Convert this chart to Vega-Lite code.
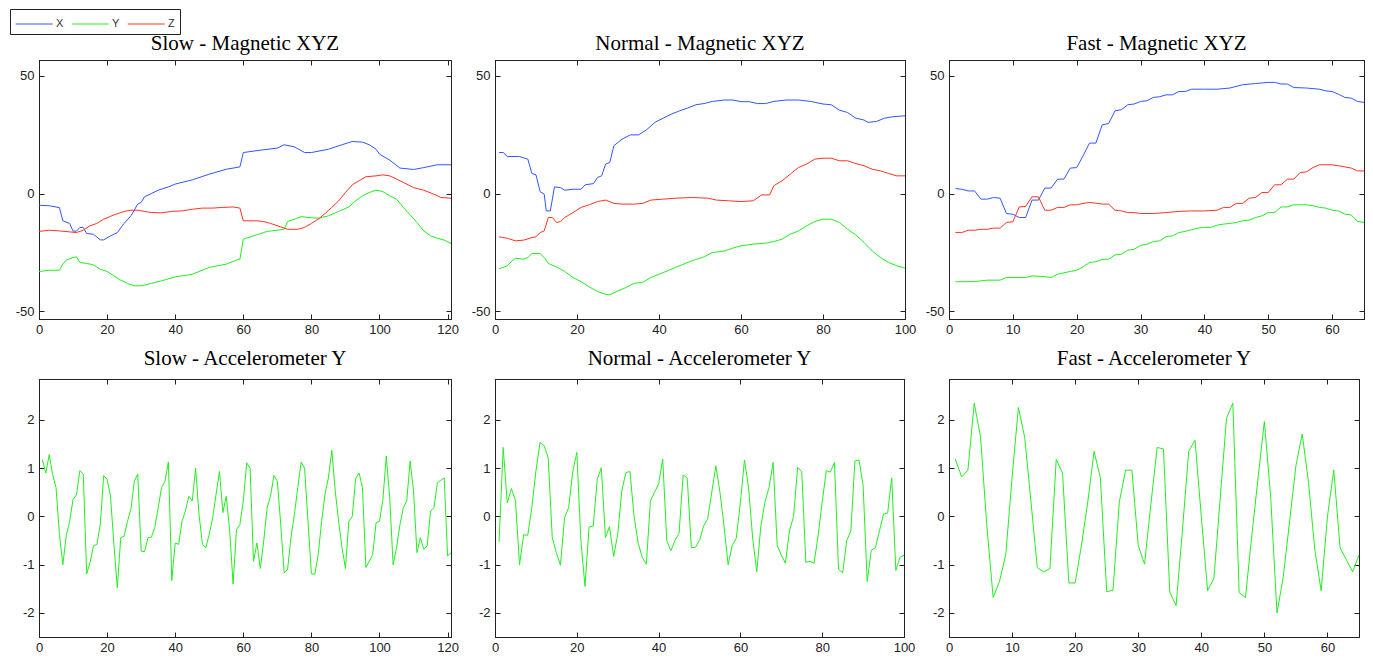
{
"$schema": "https://vega.github.io/schema/vega-lite/v6.json",
"padding": {"left": 9, "top": 8, "right": 0, "bottom": 0},
"background": "white",
"bounds": "flush",
"columns": 3,
"spacing": {"row": 60, "column": 44},
"datasets": {
"sm": [
{"s":"X","t":0,"v":-5},{"s":"X","t":3,"v":-5.2},{"s":"X","t":6,"v":-6},{"s":"X","t":7,"v":-11.6},{"s":"X","t":9,"v":-12.7},{"s":"X","t":10,"v":-16},{"s":"X","t":11,"v":-16},{"s":"X","t":12,"v":-14.4},{"s":"X","t":13,"v":-14.4},{"s":"X","t":14,"v":-17},{"s":"X","t":16,"v":-17.3},{"s":"X","t":18,"v":-19.7},{"s":"X","t":19,"v":-19.7},{"s":"X","t":21,"v":-18},{"s":"X","t":23,"v":-16.6},{"s":"X","t":25,"v":-12.7},{"s":"X","t":27,"v":-9.5},{"s":"X","t":29,"v":-4.5},{"s":"X","t":30,"v":-3.8},{"s":"X","t":31,"v":-1.4},{"s":"X","t":33,"v":0},{"s":"X","t":35,"v":1.4},{"s":"X","t":38,"v":2.8},{"s":"X","t":40,"v":4},{"s":"X","t":45,"v":5.8},{"s":"X","t":50,"v":8.2},{"s":"X","t":55,"v":10.3},{"s":"X","t":59,"v":11.3},{"s":"X","t":60,"v":17.4},{"s":"X","t":65,"v":18.4},{"s":"X","t":70,"v":19.3},{"s":"X","t":72,"v":20.7},{"s":"X","t":75,"v":19.8},{"s":"X","t":78,"v":17.4},{"s":"X","t":80,"v":17.4},{"s":"X","t":85,"v":18.8},{"s":"X","t":89,"v":20.7},{"s":"X","t":92,"v":22.1},{"s":"X","t":95,"v":21.8},{"s":"X","t":97,"v":20.7},{"s":"X","t":99,"v":18.8},{"s":"X","t":100,"v":16.7},{"s":"X","t":103,"v":14.2},{"s":"X","t":106,"v":10.8},{"s":"X","t":110,"v":10.2},{"s":"X","t":113,"v":11},{"s":"X","t":117,"v":12.2},{"s":"X","t":121,"v":12.2},
{"s":"Y","t":0,"v":-33.1},{"s":"Y","t":3,"v":-32.6},{"s":"Y","t":6,"v":-32.6},{"s":"Y","t":7,"v":-30},{"s":"Y","t":8,"v":-28.3},{"s":"Y","t":10,"v":-27.2},{"s":"Y","t":11,"v":-26.9},{"s":"Y","t":12,"v":-29.3},{"s":"Y","t":14,"v":-29.7},{"s":"Y","t":16,"v":-30.3},{"s":"Y","t":18,"v":-32.2},{"s":"Y","t":20,"v":-33.1},{"s":"Y","t":22,"v":-35},{"s":"Y","t":24,"v":-36.8},{"s":"Y","t":26,"v":-38.2},{"s":"Y","t":28,"v":-39.2},{"s":"Y","t":30,"v":-39.2},{"s":"Y","t":33,"v":-38.2},{"s":"Y","t":36,"v":-37.1},{"s":"Y","t":40,"v":-35.4},{"s":"Y","t":45,"v":-34.3},{"s":"Y","t":50,"v":-31.4},{"s":"Y","t":55,"v":-30},{"s":"Y","t":58,"v":-28.3},{"s":"Y","t":59,"v":-27.9},{"s":"Y","t":60,"v":-19.4},{"s":"Y","t":63,"v":-18},{"s":"Y","t":67,"v":-16.1},{"s":"Y","t":70,"v":-15.6},{"s":"Y","t":72,"v":-15.2},{"s":"Y","t":73,"v":-11.9},{"s":"Y","t":75,"v":-10.9},{"s":"Y","t":77,"v":-9.8},{"s":"Y","t":79,"v":-10.2},{"s":"Y","t":82,"v":-10.5},{"s":"Y","t":85,"v":-9.5},{"s":"Y","t":88,"v":-7.6},{"s":"Y","t":91,"v":-5.7},{"s":"Y","t":93,"v":-3.1},{"s":"Y","t":95,"v":-1},{"s":"Y","t":97,"v":0.4},{"s":"Y","t":99,"v":1.4},{"s":"Y","t":101,"v":0.8},{"s":"Y","t":103,"v":-1},{"s":"Y","t":105,"v":-2.4},{"s":"Y","t":107,"v":-5.9},{"s":"Y","t":109,"v":-9.1},{"s":"Y","t":111,"v":-12.3},{"s":"Y","t":113,"v":-15.9},{"s":"Y","t":115,"v":-18},{"s":"Y","t":117,"v":-19},{"s":"Y","t":119,"v":-19.8},{"s":"Y","t":121,"v":-21.2},
{"s":"Z","t":0,"v":-16.1},{"s":"Z","t":3,"v":-15.6},{"s":"Z","t":6,"v":-15.9},{"s":"Z","t":9,"v":-16.3},{"s":"Z","t":11,"v":-16.6},{"s":"Z","t":13,"v":-15.6},{"s":"Z","t":15,"v":-13.7},{"s":"Z","t":17,"v":-12.7},{"s":"Z","t":19,"v":-10.9},{"s":"Z","t":22,"v":-9.1},{"s":"Z","t":25,"v":-7.6},{"s":"Z","t":27,"v":-7.1},{"s":"Z","t":29,"v":-7.1},{"s":"Z","t":31,"v":-7.6},{"s":"Z","t":33,"v":-8.1},{"s":"Z","t":36,"v":-8.2},{"s":"Z","t":39,"v":-7.6},{"s":"Z","t":42,"v":-7.4},{"s":"Z","t":45,"v":-6.7},{"s":"Z","t":48,"v":-6.2},{"s":"Z","t":51,"v":-6.2},{"s":"Z","t":54,"v":-5.9},{"s":"Z","t":57,"v":-5.7},{"s":"Z","t":59,"v":-6.2},{"s":"Z","t":60,"v":-11.6},{"s":"Z","t":64,"v":-11.6},{"s":"Z","t":66,"v":-11.9},{"s":"Z","t":68,"v":-12.7},{"s":"Z","t":71,"v":-14.2},{"s":"Z","t":73,"v":-15.2},{"s":"Z","t":76,"v":-15.2},{"s":"Z","t":78,"v":-14.4},{"s":"Z","t":80,"v":-12.7},{"s":"Z","t":82,"v":-10.9},{"s":"Z","t":84,"v":-8.5},{"s":"Z","t":86,"v":-5.9},{"s":"Z","t":88,"v":-3.1},{"s":"Z","t":90,"v":0.4},{"s":"Z","t":92,"v":3.7},{"s":"Z","t":94,"v":5.4},{"s":"Z","t":96,"v":7.1},{"s":"Z","t":99,"v":7.5},{"s":"Z","t":101,"v":7.9},{"s":"Z","t":103,"v":7.5},{"s":"Z","t":105,"v":6.1},{"s":"Z","t":107,"v":4.7},{"s":"Z","t":110,"v":2.5},{"s":"Z","t":113,"v":1.4},{"s":"Z","t":116,"v":-0.3},{"s":"Z","t":118,"v":-1.7},{"s":"Z","t":121,"v":-2}
],
"nm": [
{"s":"X","t":1,"v":17.4},{"s":"X","t":2,"v":17.4},{"s":"X","t":3,"v":15.7},{"s":"X","t":6,"v":15.7},{"s":"X","t":8,"v":14.6},{"s":"X","t":9,"v":8.5},{"s":"X","t":10,"v":7.9},{"s":"X","t":11,"v":0.8},{"s":"X","t":12,"v":-0.3},{"s":"X","t":12.5,"v":-7.4},{"s":"X","t":13.5,"v":-7.4},{"s":"X","t":14.5,"v":2.8},{"s":"X","t":16,"v":2.5},{"s":"X","t":17,"v":1.4},{"s":"X","t":19,"v":1.8},{"s":"X","t":21,"v":1.8},{"s":"X","t":22,"v":3.7},{"s":"X","t":24,"v":4.2},{"s":"X","t":25,"v":6.8},{"s":"X","t":26,"v":7.5},{"s":"X","t":27,"v":12.5},{"s":"X","t":28,"v":13.2},{"s":"X","t":29,"v":20.3},{"s":"X","t":31,"v":23.1},{"s":"X","t":33,"v":24.9},{"s":"X","t":35,"v":24.9},{"s":"X","t":37,"v":27.1},{"s":"X","t":39,"v":30.2},{"s":"X","t":41,"v":32},{"s":"X","t":43,"v":33.7},{"s":"X","t":45,"v":35.1},{"s":"X","t":47,"v":36.3},{"s":"X","t":49,"v":37.7},{"s":"X","t":51,"v":38.2},{"s":"X","t":53,"v":39.1},{"s":"X","t":56,"v":39.7},{"s":"X","t":58,"v":39.7},{"s":"X","t":60,"v":39},{"s":"X","t":62,"v":39},{"s":"X","t":64,"v":38.2},{"s":"X","t":66,"v":38.2},{"s":"X","t":68,"v":39.1},{"s":"X","t":71,"v":39.7},{"s":"X","t":74,"v":39.7},{"s":"X","t":77,"v":39.1},{"s":"X","t":80,"v":38},{"s":"X","t":82,"v":37.7},{"s":"X","t":84,"v":35.4},{"s":"X","t":86,"v":34.4},{"s":"X","t":88,"v":32},{"s":"X","t":90,"v":31.2},{"s":"X","t":91,"v":30.2},{"s":"X","t":93,"v":30.6},{"s":"X","t":95,"v":32},{"s":"X","t":97,"v":32.6},{"s":"X","t":100,"v":33},
{"s":"Y","t":1,"v":-32},{"s":"Y","t":3,"v":-30.7},{"s":"Y","t":4,"v":-28.9},{"s":"Y","t":5,"v":-27.5},{"s":"Y","t":7,"v":-27.9},{"s":"Y","t":8,"v":-27.2},{"s":"Y","t":9,"v":-25.5},{"s":"Y","t":11,"v":-25.5},{"s":"Y","t":12,"v":-27.2},{"s":"Y","t":13,"v":-29.7},{"s":"Y","t":15,"v":-31.2},{"s":"Y","t":17,"v":-33.1},{"s":"Y","t":19,"v":-35.7},{"s":"Y","t":21,"v":-37.4},{"s":"Y","t":23,"v":-39.7},{"s":"Y","t":25,"v":-41.6},{"s":"Y","t":27,"v":-42.8},{"s":"Y","t":28,"v":-43},{"s":"Y","t":30,"v":-41.4},{"s":"Y","t":32,"v":-39.9},{"s":"Y","t":34,"v":-38.1},{"s":"Y","t":36,"v":-37.8},{"s":"Y","t":38,"v":-35.7},{"s":"Y","t":40,"v":-34.3},{"s":"Y","t":42,"v":-32.9},{"s":"Y","t":44,"v":-31.4},{"s":"Y","t":46,"v":-30},{"s":"Y","t":48,"v":-28.6},{"s":"Y","t":51,"v":-26.9},{"s":"Y","t":53,"v":-25.1},{"s":"Y","t":56,"v":-24.4},{"s":"Y","t":58,"v":-23.2},{"s":"Y","t":60,"v":-22.2},{"s":"Y","t":63,"v":-21.5},{"s":"Y","t":66,"v":-21.1},{"s":"Y","t":68,"v":-20.4},{"s":"Y","t":70,"v":-19.4},{"s":"Y","t":72,"v":-17.3},{"s":"Y","t":74,"v":-15.9},{"s":"Y","t":76,"v":-13.7},{"s":"Y","t":78,"v":-11.9},{"s":"Y","t":80,"v":-10.9},{"s":"Y","t":82,"v":-10.9},{"s":"Y","t":84,"v":-12.3},{"s":"Y","t":86,"v":-15.2},{"s":"Y","t":88,"v":-17.6},{"s":"Y","t":90,"v":-20.8},{"s":"Y","t":92,"v":-24.4},{"s":"Y","t":94,"v":-27.2},{"s":"Y","t":96,"v":-29.3},{"s":"Y","t":98,"v":-30.7},{"s":"Y","t":100,"v":-31.7},
{"s":"Z","t":1,"v":-18.4},{"s":"Z","t":3,"v":-19},{"s":"Z","t":5,"v":-20.1},{"s":"Z","t":7,"v":-19.8},{"s":"Z","t":9,"v":-18.7},{"s":"Z","t":10,"v":-18.4},{"s":"Z","t":11,"v":-16.6},{"s":"Z","t":12,"v":-15.9},{"s":"Z","t":13,"v":-10.2},{"s":"Z","t":14,"v":-10.2},{"s":"Z","t":15,"v":-12.3},{"s":"Z","t":16,"v":-11.9},{"s":"Z","t":17,"v":-10.2},{"s":"Z","t":19,"v":-8.1},{"s":"Z","t":21,"v":-5.9},{"s":"Z","t":23,"v":-4.8},{"s":"Z","t":25,"v":-3.4},{"s":"Z","t":27,"v":-2.8},{"s":"Z","t":29,"v":-4.2},{"s":"Z","t":31,"v":-4.5},{"s":"Z","t":34,"v":-4.5},{"s":"Z","t":36,"v":-4.2},{"s":"Z","t":38,"v":-2.8},{"s":"Z","t":41,"v":-2.4},{"s":"Z","t":44,"v":-2},{"s":"Z","t":48,"v":-1.7},{"s":"Z","t":52,"v":-2},{"s":"Z","t":54,"v":-2.8},{"s":"Z","t":57,"v":-3.1},{"s":"Z","t":60,"v":-3.4},{"s":"Z","t":63,"v":-3.1},{"s":"Z","t":65,"v":-0.6},{"s":"Z","t":67,"v":-0.6},{"s":"Z","t":68,"v":3.3},{"s":"Z","t":70,"v":5.4},{"s":"Z","t":72,"v":8.2},{"s":"Z","t":74,"v":11},{"s":"Z","t":76,"v":12.5},{"s":"Z","t":78,"v":14.6},{"s":"Z","t":80,"v":15},{"s":"Z","t":82,"v":15},{"s":"Z","t":84,"v":13.9},{"s":"Z","t":86,"v":13.9},{"s":"Z","t":88,"v":12.7},{"s":"Z","t":90,"v":11.8},{"s":"Z","t":92,"v":10.3},{"s":"Z","t":94,"v":9.6},{"s":"Z","t":96,"v":8.5},{"s":"Z","t":98,"v":7.5},{"s":"Z","t":100,"v":7.5}
],
"fm": [
{"s":"X","t":1,"v":2.1},{"s":"X","t":2,"v":1.8},{"s":"X","t":3,"v":1.1},{"s":"X","t":4,"v":1.1},{"s":"X","t":5,"v":-2.4},{"s":"X","t":6,"v":-2.4},{"s":"X","t":7,"v":-1.7},{"s":"X","t":8,"v":-2},{"s":"X","t":9,"v":-8.5},{"s":"X","t":10,"v":-8.8},{"s":"X","t":11,"v":-10.2},{"s":"X","t":12,"v":-10.2},{"s":"X","t":13,"v":-2.8},{"s":"X","t":14,"v":-2.8},{"s":"X","t":15,"v":2.3},{"s":"X","t":16,"v":2.3},{"s":"X","t":17,"v":6.1},{"s":"X","t":18,"v":6.1},{"s":"X","t":19,"v":10.8},{"s":"X","t":20,"v":11},{"s":"X","t":21,"v":16},{"s":"X","t":22,"v":21.4},{"s":"X","t":23,"v":21.4},{"s":"X","t":24,"v":29.2},{"s":"X","t":25,"v":29.7},{"s":"X","t":26,"v":35.1},{"s":"X","t":27,"v":35.6},{"s":"X","t":28,"v":37.7},{"s":"X","t":29,"v":38},{"s":"X","t":30,"v":39.1},{"s":"X","t":31,"v":39.4},{"s":"X","t":32,"v":40.8},{"s":"X","t":33,"v":41.1},{"s":"X","t":34,"v":41.9},{"s":"X","t":35,"v":41.9},{"s":"X","t":36,"v":43.3},{"s":"X","t":37,"v":43.3},{"s":"X","t":38,"v":44.3},{"s":"X","t":40,"v":44.3},{"s":"X","t":42,"v":44.3},{"s":"X","t":44,"v":44.8},{"s":"X","t":46,"v":46.2},{"s":"X","t":48,"v":46.7},{"s":"X","t":50,"v":47.2},{"s":"X","t":51,"v":47.2},{"s":"X","t":52,"v":46.5},{"s":"X","t":53,"v":46.5},{"s":"X","t":54,"v":45},{"s":"X","t":56,"v":44.8},{"s":"X","t":58,"v":44.3},{"s":"X","t":59,"v":43.6},{"s":"X","t":60,"v":43.3},{"s":"X","t":61,"v":42.2},{"s":"X","t":62,"v":40.8},{"s":"X","t":63,"v":40.5},{"s":"X","t":64,"v":39.1},{"s":"X","t":65,"v":38.7},
{"s":"Y","t":1,"v":-37.5},{"s":"Y","t":4,"v":-37.4},{"s":"Y","t":6,"v":-36.8},{"s":"Y","t":8,"v":-36.8},{"s":"Y","t":9,"v":-35.7},{"s":"Y","t":12,"v":-35.7},{"s":"Y","t":13,"v":-35},{"s":"Y","t":15,"v":-35.3},{"s":"Y","t":16,"v":-35.7},{"s":"Y","t":17,"v":-34.3},{"s":"Y","t":19,"v":-33.1},{"s":"Y","t":20,"v":-32.6},{"s":"Y","t":21,"v":-31.2},{"s":"Y","t":22,"v":-29.3},{"s":"Y","t":23,"v":-29},{"s":"Y","t":24,"v":-28},{"s":"Y","t":25,"v":-27.9},{"s":"Y","t":26,"v":-26.1},{"s":"Y","t":27,"v":-25.8},{"s":"Y","t":28,"v":-24.1},{"s":"Y","t":29,"v":-23.7},{"s":"Y","t":30,"v":-22},{"s":"Y","t":31,"v":-21.5},{"s":"Y","t":32,"v":-20.4},{"s":"Y","t":33,"v":-20.1},{"s":"Y","t":34,"v":-18.3},{"s":"Y","t":35,"v":-18},{"s":"Y","t":36,"v":-16.6},{"s":"Y","t":37,"v":-16.1},{"s":"Y","t":38,"v":-15.4},{"s":"Y","t":39,"v":-14.7},{"s":"Y","t":40,"v":-14.4},{"s":"Y","t":41,"v":-14.4},{"s":"Y","t":42,"v":-13.4},{"s":"Y","t":43,"v":-13},{"s":"Y","t":44,"v":-12.7},{"s":"Y","t":45,"v":-12.3},{"s":"Y","t":46,"v":-11.6},{"s":"Y","t":47,"v":-11.3},{"s":"Y","t":48,"v":-10.2},{"s":"Y","t":49,"v":-9.5},{"s":"Y","t":50,"v":-8.1},{"s":"Y","t":51,"v":-8.1},{"s":"Y","t":52,"v":-5.7},{"s":"Y","t":53,"v":-5.7},{"s":"Y","t":54,"v":-4.8},{"s":"Y","t":56,"v":-4.8},{"s":"Y","t":57,"v":-5.2},{"s":"Y","t":58,"v":-5.9},{"s":"Y","t":59,"v":-6.2},{"s":"Y","t":60,"v":-7.1},{"s":"Y","t":61,"v":-7.4},{"s":"Y","t":62,"v":-8.8},{"s":"Y","t":63,"v":-9.1},{"s":"Y","t":64,"v":-11.9},{"s":"Y","t":65,"v":-12.3},
{"s":"Z","t":1,"v":-16.6},{"s":"Z","t":2,"v":-16.6},{"s":"Z","t":3,"v":-15.6},{"s":"Z","t":4,"v":-15.6},{"s":"Z","t":5,"v":-15.2},{"s":"Z","t":6,"v":-15.2},{"s":"Z","t":7,"v":-14.7},{"s":"Z","t":8,"v":-14.7},{"s":"Z","t":9,"v":-12.3},{"s":"Z","t":10,"v":-12},{"s":"Z","t":11,"v":-5.7},{"s":"Z","t":12,"v":-5.5},{"s":"Z","t":13,"v":-1.4},{"s":"Z","t":14,"v":-1.4},{"s":"Z","t":15,"v":-7.1},{"s":"Z","t":16,"v":-7.1},{"s":"Z","t":17,"v":-5.9},{"s":"Z","t":18,"v":-5.9},{"s":"Z","t":19,"v":-4.8},{"s":"Z","t":20,"v":-4.8},{"s":"Z","t":21,"v":-4.2},{"s":"Z","t":22,"v":-3.8},{"s":"Z","t":23,"v":-4.1},{"s":"Z","t":24,"v":-4.5},{"s":"Z","t":25,"v":-4.5},{"s":"Z","t":26,"v":-7.1},{"s":"Z","t":27,"v":-7.4},{"s":"Z","t":28,"v":-8.1},{"s":"Z","t":29,"v":-8.1},{"s":"Z","t":30,"v":-8.5},{"s":"Z","t":32,"v":-8.5},{"s":"Z","t":34,"v":-8.1},{"s":"Z","t":36,"v":-7.6},{"s":"Z","t":38,"v":-7.4},{"s":"Z","t":40,"v":-7.4},{"s":"Z","t":42,"v":-7.1},{"s":"Z","t":43,"v":-5.9},{"s":"Z","t":44,"v":-5.9},{"s":"Z","t":45,"v":-4.2},{"s":"Z","t":46,"v":-4.2},{"s":"Z","t":47,"v":-2},{"s":"Z","t":48,"v":-1.7},{"s":"Z","t":49,"v":0.4},{"s":"Z","t":50,"v":0.4},{"s":"Z","t":51,"v":3.7},{"s":"Z","t":52,"v":3.7},{"s":"Z","t":53,"v":6.1},{"s":"Z","t":54,"v":6.1},{"s":"Z","t":55,"v":8.9},{"s":"Z","t":56,"v":9.2},{"s":"Z","t":57,"v":11},{"s":"Z","t":58,"v":12.2},{"s":"Z","t":60,"v":12.2},{"s":"Z","t":61,"v":11.8},{"s":"Z","t":62,"v":11.3},{"s":"Z","t":63,"v":10.8},{"s":"Z","t":64,"v":9.6},{"s":"Z","t":65,"v":9.6}
],
"sa": [
{"t":1,"v":1.18},{"t":2,"v":0.9},{"t":3,"v":1.28},{"t":4,"v":0.87},{"t":5,"v":0.6},{"t":6,"v":-0.37},{"t":7,"v":-1.0},{"t":8,"v":-0.4},{"t":9,"v":-0.1},{"t":10,"v":0.35},{"t":11,"v":0.45},{"t":12,"v":0.95},{"t":13,"v":0.88},{"t":14,"v":-1.19},{"t":15,"v":-0.96},{"t":16,"v":-0.61},{"t":17,"v":-0.58},{"t":18,"v":-0.17},{"t":19,"v":0.85},{"t":20,"v":0.77},{"t":21,"v":0.42},{"t":22,"v":-0.58},{"t":23,"v":-1.48},{"t":24,"v":-0.44},{"t":25,"v":-0.41},{"t":26,"v":-0.1},{"t":27,"v":0.15},{"t":28,"v":0.73},{"t":29,"v":0.88},{"t":30,"v":-0.72},{"t":31,"v":-0.73},{"t":32,"v":-0.44},{"t":33,"v":-0.43},{"t":34,"v":-0.23},{"t":35,"v":0.18},{"t":36,"v":0.6},{"t":37,"v":0.73},{"t":38,"v":1.13},{"t":39,"v":-1.33},{"t":40,"v":-0.55},{"t":41,"v":-0.58},{"t":42,"v":-0.1},{"t":43,"v":0.11},{"t":44,"v":0.42},{"t":45,"v":0.32},{"t":46,"v":1.0},{"t":47,"v":0.04},{"t":48,"v":-0.58},{"t":49,"v":-0.65},{"t":50,"v":-0.37},{"t":51,"v":-0.03},{"t":52,"v":0.46},{"t":53,"v":0.93},{"t":54,"v":0.08},{"t":55,"v":0.42},{"t":56,"v":-0.3},{"t":57,"v":-1.4},{"t":58,"v":-0.27},{"t":59,"v":-0.17},{"t":60,"v":0.32},{"t":61,"v":1.11},{"t":62,"v":1.0},{"t":63,"v":-0.93},{"t":64,"v":-0.55},{"t":65,"v":-1.08},{"t":66,"v":-0.51},{"t":67,"v":0.18},{"t":68,"v":0.42},{"t":69,"v":0.85},{"t":70,"v":0.73},{"t":71,"v":-0.17},{"t":72,"v":-1.17},{"t":73,"v":-1.1},{"t":74,"v":-0.44},{"t":75,"v":0.04},{"t":76,"v":0.6},{"t":77,"v":1.13},{"t":78,"v":1.0},{"t":79,"v":-0.1},{"t":80,"v":-1.19},{"t":81,"v":-1.2},{"t":82,"v":-0.79},{"t":83,"v":-0.1},{"t":84,"v":0.46},{"t":85,"v":0.8},{"t":86,"v":1.37},{"t":87,"v":0.53},{"t":88,"v":-0.1},{"t":89,"v":-0.65},{"t":90,"v":-1.08},{"t":91,"v":-0.1},{"t":92,"v":0.0},{"t":93,"v":0.79},{"t":94,"v":0.9},{"t":95,"v":0.6},{"t":96,"v":-1.06},{"t":97,"v":-0.93},{"t":98,"v":-0.79},{"t":99,"v":-0.13},{"t":100,"v":-0.1},{"t":101,"v":0.35},{"t":102,"v":1.25},{"t":103,"v":0.39},{"t":104,"v":-1.0},{"t":105,"v":-0.65},{"t":106,"v":-0.17},{"t":107,"v":0.18},{"t":108,"v":0.32},{"t":109,"v":1.15},{"t":110,"v":0.53},{"t":111,"v":-0.75},{"t":112,"v":-0.44},{"t":113,"v":-0.68},{"t":114,"v":-0.61},{"t":115,"v":0.11},{"t":116,"v":0.18},{"t":117,"v":0.7},{"t":118,"v":0.75},{"t":119,"v":0.8},{"t":120,"v":-0.82},{"t":121,"v":-0.75}
],
"na": [
{"t":1,"v":-0.53},{"t":2,"v":1.43},{"t":3,"v":0.28},{"t":4,"v":0.58},{"t":5,"v":0.33},{"t":6,"v":-1.0},{"t":7,"v":-0.38},{"t":8,"v":-0.39},{"t":9,"v":0.18},{"t":10,"v":0.94},{"t":11,"v":1.53},{"t":12,"v":1.47},{"t":13,"v":1.22},{"t":14,"v":-0.44},{"t":15,"v":-0.75},{"t":16,"v":-1.01},{"t":17,"v":-0.03},{"t":18,"v":0.18},{"t":19,"v":0.92},{"t":20,"v":1.33},{"t":21,"v":-0.5},{"t":22,"v":-1.45},{"t":23,"v":-0.22},{"t":24,"v":-0.2},{"t":25,"v":0.77},{"t":26,"v":1.01},{"t":27,"v":-0.44},{"t":28,"v":-0.21},{"t":29,"v":-0.83},{"t":30,"v":-0.38},{"t":31,"v":0.53},{"t":32,"v":0.91},{"t":33,"v":0.93},{"t":34,"v":0.0},{"t":35,"v":-0.55},{"t":36,"v":-0.85},{"t":37,"v":-0.99},{"t":38,"v":0.32},{"t":39,"v":0.5},{"t":40,"v":0.67},{"t":41,"v":1.19},{"t":42,"v":-0.5},{"t":43,"v":-0.71},{"t":44,"v":-0.5},{"t":45,"v":-0.35},{"t":46,"v":0.86},{"t":47,"v":0.8},{"t":48,"v":-0.65},{"t":49,"v":-0.64},{"t":50,"v":-0.5},{"t":51,"v":-0.2},{"t":52,"v":-0.05},{"t":53,"v":0.5},{"t":54,"v":1.05},{"t":55,"v":0.5},{"t":56,"v":-0.2},{"t":57,"v":-1.0},{"t":58,"v":-0.6},{"t":59,"v":-0.45},{"t":60,"v":0.3},{"t":61,"v":1.17},{"t":62,"v":0.6},{"t":63,"v":-0.45},{"t":64,"v":-1.15},{"t":65,"v":-0.2},{"t":66,"v":0.3},{"t":67,"v":0.6},{"t":68,"v":1.12},{"t":69,"v":-0.6},{"t":70,"v":-0.8},{"t":71,"v":-0.97},{"t":72,"v":-0.3},{"t":73,"v":0.0},{"t":74,"v":1.02},{"t":75,"v":0.93},{"t":76,"v":-0.95},{"t":77,"v":-0.93},{"t":78,"v":-0.97},{"t":79,"v":-0.4},{"t":80,"v":0.3},{"t":81,"v":0.95},{"t":82,"v":0.92},{"t":83,"v":1.12},{"t":84,"v":-1.1},{"t":85,"v":-1.17},{"t":86,"v":-0.5},{"t":87,"v":-0.3},{"t":88,"v":1.15},{"t":89,"v":1.17},{"t":90,"v":0.65},{"t":91,"v":-1.35},{"t":92,"v":-0.7},{"t":93,"v":-0.65},{"t":94,"v":-0.3},{"t":95,"v":0.05},{"t":96,"v":0.07},{"t":97,"v":0.8},{"t":98,"v":-1.12},{"t":99,"v":-0.85},{"t":100,"v":-0.8}
],
"fa": [
{"t":1,"v":1.19},{"t":2,"v":0.82},{"t":3,"v":0.96},{"t":4,"v":2.35},{"t":5,"v":1.65},{"t":6,"v":-0.2},{"t":7,"v":-1.68},{"t":8,"v":-1.35},{"t":9,"v":-0.79},{"t":10,"v":0.8},{"t":11,"v":2.26},{"t":12,"v":1.64},{"t":13,"v":0.3},{"t":14,"v":-1.06},{"t":15,"v":-1.15},{"t":16,"v":-1.08},{"t":17,"v":1.18},{"t":18,"v":0.9},{"t":19,"v":-1.38},{"t":20,"v":-1.38},{"t":21,"v":-0.6},{"t":22,"v":0.3},{"t":23,"v":1.35},{"t":24,"v":0.8},{"t":25,"v":-1.56},{"t":26,"v":-1.53},{"t":27,"v":0.3},{"t":28,"v":0.96},{"t":29,"v":0.96},{"t":30,"v":-0.6},{"t":31,"v":-0.99},{"t":32,"v":0.25},{"t":33,"v":1.43},{"t":34,"v":1.4},{"t":35,"v":-1.57},{"t":36,"v":-1.85},{"t":37,"v":-0.3},{"t":38,"v":1.35},{"t":39,"v":1.58},{"t":40,"v":0.0},{"t":41,"v":-1.54},{"t":42,"v":-1.28},{"t":43,"v":0.38},{"t":44,"v":2.04},{"t":45,"v":2.35},{"t":46,"v":-1.58},{"t":47,"v":-1.68},{"t":48,"v":-0.4},{"t":49,"v":0.8},{"t":50,"v":1.97},{"t":51,"v":0.4},{"t":52,"v":-2.0},{"t":53,"v":-1.25},{"t":54,"v":-0.1},{"t":55,"v":1.05},{"t":56,"v":1.71},{"t":57,"v":0.7},{"t":58,"v":-0.7},{"t":59,"v":-1.54},{"t":60,"v":0.0},{"t":61,"v":0.96},{"t":62,"v":-0.65},{"t":63,"v":-0.9},{"t":64,"v":-1.15},{"t":65,"v":-0.8}
]
},
"concat": [
{"title": {"text": "Slow - Magnetic XYZ", "offset": 6}, "width": 412, "height": 259, "data": {"name": "sm"},
 "layer": [
  {"mark": {"type": "line", "strokeWidth": 1},
   "encoding": {
    "x": {"field": "t", "type": "quantitative", "scale": {"domain": [0, 121], "nice": false, "zero": false}, "axis": {"orient": "bottom", "values": [0,20,40,60,80,100,120], "title": null, "labelExpr": "'' + datum.value"}},
    "y": {"field": "v", "type": "quantitative", "scale": {"domain": [-53.3, 56.7], "nice": false, "zero": false}, "axis": {"orient": "left", "values": [-50,0,50], "title": null, "labelExpr": "'' + datum.value"}},
    "color": {"field": "s", "type": "nominal", "scale": {"domain": ["X","Y","Z"], "range": ["#3355ff","#22ee22","#ff3322"]},
      "legend": {"orient": "none", "legendX": -29, "legendY": -51, "direction": "horizontal", "title": null, "symbolType": "M-1,0H3", "symbolSize": 342, "symbolStrokeWidth": 1, "labelFont": "Liberation Sans", "labelFontSize": 11, "labelColor": "#333", "labelOffset": 21, "columnPadding": 5, "padding": 5, "strokeColor": "#222", "fillColor": "white"}}
   }},
  {"mark": {"type": "line", "opacity": 0},
   "encoding": {
    "x": {"field": "t", "type": "quantitative", "axis": {"orient": "top", "values": [0,20,40,60,80,100,120], "labels": false, "title": null}},
    "y": {"field": "v", "type": "quantitative", "axis": {"orient": "right", "values": [-50,0,50], "labels": false, "title": null}},
    "detail": {"field": "s", "type": "nominal"}
   }}
 ],
 "resolve": {"axis": {"x": "independent", "y": "independent"}}
},
{"title": {"text": "Normal - Magnetic XYZ", "offset": 6}, "width": 410, "height": 259, "data": {"name": "nm"},
 "layer": [
  {"mark": {"type": "line", "strokeWidth": 1},
   "encoding": {
    "x": {"field": "t", "type": "quantitative", "scale": {"domain": [0, 100], "nice": false, "zero": false}, "axis": {"orient": "bottom", "values": [0,20,40,60,80,100], "title": null, "labelExpr": "'' + datum.value"}},
    "y": {"field": "v", "type": "quantitative", "scale": {"domain": [-53.3, 56.7], "nice": false, "zero": false}, "axis": {"orient": "left", "values": [-50,0,50], "title": null, "labelExpr": "'' + datum.value"}},
    "color": {"field": "s", "type": "nominal", "scale": {"domain": ["X","Y","Z"], "range": ["#3355ff","#22ee22","#ff3322"]},
      "legend": {"orient": "none", "legendX": -29, "legendY": -51, "direction": "horizontal", "title": null, "symbolType": "M-1,0H3", "symbolSize": 342, "symbolStrokeWidth": 1, "labelFont": "Liberation Sans", "labelFontSize": 11, "labelColor": "#333", "labelOffset": 21, "columnPadding": 5, "padding": 5, "strokeColor": "#222", "fillColor": "white"}}
   }},
  {"mark": {"type": "line", "opacity": 0},
   "encoding": {
    "x": {"field": "t", "type": "quantitative", "axis": {"orient": "top", "values": [0,20,40,60,80,100], "labels": false, "title": null}},
    "y": {"field": "v", "type": "quantitative", "axis": {"orient": "right", "values": [-50,0,50], "labels": false, "title": null}},
    "detail": {"field": "s", "type": "nominal"}
   }}
 ],
 "resolve": {"axis": {"x": "independent", "y": "independent"}}
},
{"title": {"text": "Fast - Magnetic XYZ", "offset": 6}, "width": 415, "height": 259, "data": {"name": "fm"},
 "layer": [
  {"mark": {"type": "line", "strokeWidth": 1},
   "encoding": {
    "x": {"field": "t", "type": "quantitative", "scale": {"domain": [0, 65], "nice": false, "zero": false}, "axis": {"orient": "bottom", "values": [0,10,20,30,40,50,60], "title": null, "labelExpr": "'' + datum.value"}},
    "y": {"field": "v", "type": "quantitative", "scale": {"domain": [-53.3, 56.7], "nice": false, "zero": false}, "axis": {"orient": "left", "values": [-50,0,50], "title": null, "labelExpr": "'' + datum.value"}},
    "color": {"field": "s", "type": "nominal", "scale": {"domain": ["X","Y","Z"], "range": ["#3355ff","#22ee22","#ff3322"]},
      "legend": {"orient": "none", "legendX": -29, "legendY": -51, "direction": "horizontal", "title": null, "symbolType": "M-1,0H3", "symbolSize": 342, "symbolStrokeWidth": 1, "labelFont": "Liberation Sans", "labelFontSize": 11, "labelColor": "#333", "labelOffset": 21, "columnPadding": 5, "padding": 5, "strokeColor": "#222", "fillColor": "white"}}
   }},
  {"mark": {"type": "line", "opacity": 0},
   "encoding": {
    "x": {"field": "t", "type": "quantitative", "axis": {"orient": "top", "values": [0,10,20,30,40,50,60], "labels": false, "title": null}},
    "y": {"field": "v", "type": "quantitative", "axis": {"orient": "right", "values": [-50,0,50], "labels": false, "title": null}},
    "detail": {"field": "s", "type": "nominal"}
   }}
 ],
 "resolve": {"axis": {"x": "independent", "y": "independent"}}
},
{"title": {"text": "Slow - Accelerometer Y", "offset": 10}, "width": 412, "height": 258, "data": {"name": "sa"},
 "layer": [
  {"mark": {"type": "line", "strokeWidth": 1, "color": "#22ee22"},
   "encoding": {
    "x": {"field": "t", "type": "quantitative", "scale": {"domain": [0, 121], "nice": false, "zero": false}, "axis": {"orient": "bottom", "values": [0,20,40,60,80,100,120], "title": null, "labelExpr": "'' + datum.value"}},
    "y": {"field": "v", "type": "quantitative", "scale": {"domain": [-2.5, 2.85], "nice": false, "zero": false}, "axis": {"orient": "left", "values": [-2,-1,0,1,2], "title": null, "labelExpr": "'' + datum.value"}}
   }},
  {"mark": {"type": "line", "opacity": 0},
   "encoding": {
    "x": {"field": "t", "type": "quantitative", "axis": {"orient": "top", "values": [0,20,40,60,80,100,120], "labels": false, "title": null}},
    "y": {"field": "v", "type": "quantitative", "axis": {"orient": "right", "values": [-2,-1,0,1,2], "labels": false, "title": null}}
   }}
 ],
 "resolve": {"axis": {"x": "independent", "y": "independent"}}
},
{"title": {"text": "Normal - Accelerometer Y", "offset": 10}, "width": 409, "height": 258, "data": {"name": "na"},
 "layer": [
  {"mark": {"type": "line", "strokeWidth": 1, "color": "#22ee22"},
   "encoding": {
    "x": {"field": "t", "type": "quantitative", "scale": {"domain": [0, 100], "nice": false, "zero": false}, "axis": {"orient": "bottom", "values": [0,20,40,60,80,100], "title": null, "labelExpr": "'' + datum.value"}},
    "y": {"field": "v", "type": "quantitative", "scale": {"domain": [-2.5, 2.85], "nice": false, "zero": false}, "axis": {"orient": "left", "values": [-2,-1,0,1,2], "title": null, "labelExpr": "'' + datum.value"}}
   }},
  {"mark": {"type": "line", "opacity": 0},
   "encoding": {
    "x": {"field": "t", "type": "quantitative", "axis": {"orient": "top", "values": [0,20,40,60,80,100], "labels": false, "title": null}},
    "y": {"field": "v", "type": "quantitative", "axis": {"orient": "right", "values": [-2,-1,0,1,2], "labels": false, "title": null}}
   }}
 ],
 "resolve": {"axis": {"x": "independent", "y": "independent"}}
},
{"title": {"text": "Fast - Accelerometer Y", "offset": 10}, "width": 410, "height": 258, "data": {"name": "fa"},
 "layer": [
  {"mark": {"type": "line", "strokeWidth": 1, "color": "#22ee22"},
   "encoding": {
    "x": {"field": "t", "type": "quantitative", "scale": {"domain": [0, 65], "nice": false, "zero": false}, "axis": {"orient": "bottom", "values": [0,10,20,30,40,50,60], "title": null, "labelExpr": "'' + datum.value"}},
    "y": {"field": "v", "type": "quantitative", "scale": {"domain": [-2.5, 2.85], "nice": false, "zero": false}, "axis": {"orient": "left", "values": [-2,-1,0,1,2], "title": null, "labelExpr": "'' + datum.value"}}
   }},
  {"mark": {"type": "line", "opacity": 0},
   "encoding": {
    "x": {"field": "t", "type": "quantitative", "axis": {"orient": "top", "values": [0,10,20,30,40,50,60], "labels": false, "title": null}},
    "y": {"field": "v", "type": "quantitative", "axis": {"orient": "right", "values": [-2,-1,0,1,2], "labels": false, "title": null}}
   }}
 ],
 "resolve": {"axis": {"x": "independent", "y": "independent"}}
}
],
"config": {
 "view": {"stroke": "#222", "strokeWidth": 1},
 "axis": {"grid": false, "domainColor": "#222", "tickColor": "#222", "tickSize": -5, "labelFont": "Liberation Sans", "labelFontSize": 13, "labelColor": "#222", "labelFlush": false, "labelOverlap": false, "labelPadding": 9},
 "axisY": {"labelPadding": 10},
 "title": {"font": "Liberation Serif", "fontSize": 21, "fontWeight": "normal", "color": "#000", "anchor": "middle", "baseline": "alphabetic"}
}
}
